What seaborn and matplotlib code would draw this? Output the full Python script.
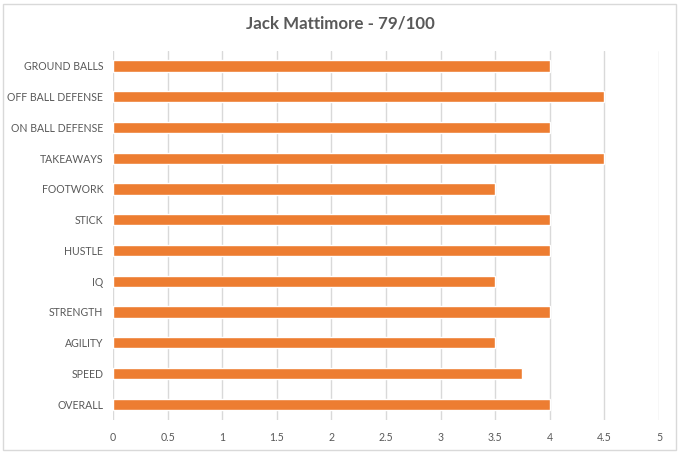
import pandas as pd
import numpy as np
import matplotlib.pyplot as plt
import seaborn as sns
from matplotlib.patches import Rectangle

skills = ['GROUND BALLS', 'OFF BALL DEFENSE', 'ON BALL DEFENSE', 'TAKEAWAYS', 'FOOTWORK',
          'STICK', 'HUSTLE', 'IQ', 'STRENGTH', 'AGILITY', 'SPEED', 'OVERALL']
scores = [4, 4.5, 4, 4.5, 3.5, 4, 4, 3.5, 4, 3.5, 3.75, 4]
ticks = [0, 0.5, 1, 1.5, 2, 2.5, 3, 3.5, 4, 4.5, 5]

df = pd.DataFrame({'Skill': skills, 'Score': scores})

sns.set_style('white')
plt.rcParams['font.family'] = ['Lato', 'DejaVu Sans']

fig = plt.figure(figsize=(6.81, 4.54), dpi=100)
ax = fig.add_axes([0.1659, 0.0758, 0.8018, 0.8127])

sns.barplot(data=df, x='Score', y='Skill', orient='h', color='#ED7D31',
            width=0.36, saturation=1, ax=ax)

ax.set_xlim(0, 5)
ax.set_xticks(ticks)
ax.set_xticklabels([f'{t:g}' for t in ticks])
ax.grid(axis='x', color='#D9D9D9', linewidth=1)
ax.set_axisbelow(True)
for s in ax.spines.values():
    s.set_visible(False)
ax.tick_params(axis='both', length=0, labelsize=7.6, colors='#595959')
ax.tick_params(axis='x', pad=9)
ax.tick_params(axis='y', pad=7)
ax.set_xlabel('')
ax.set_ylabel('')

fig.text(0.5, 0.948, 'Jack Mattimore - 79/100', ha='center', va='center',
         fontsize=12.2, fontweight='bold', color='#595959')

# chart border
fig.patches.append(Rectangle((3 / 681, 4 / 454), 673 / 681, 446 / 454, transform=fig.transFigure,
                             fill=False, edgecolor='#D9D9D9', linewidth=1))

fig.savefig('out.png', dpi=100)
